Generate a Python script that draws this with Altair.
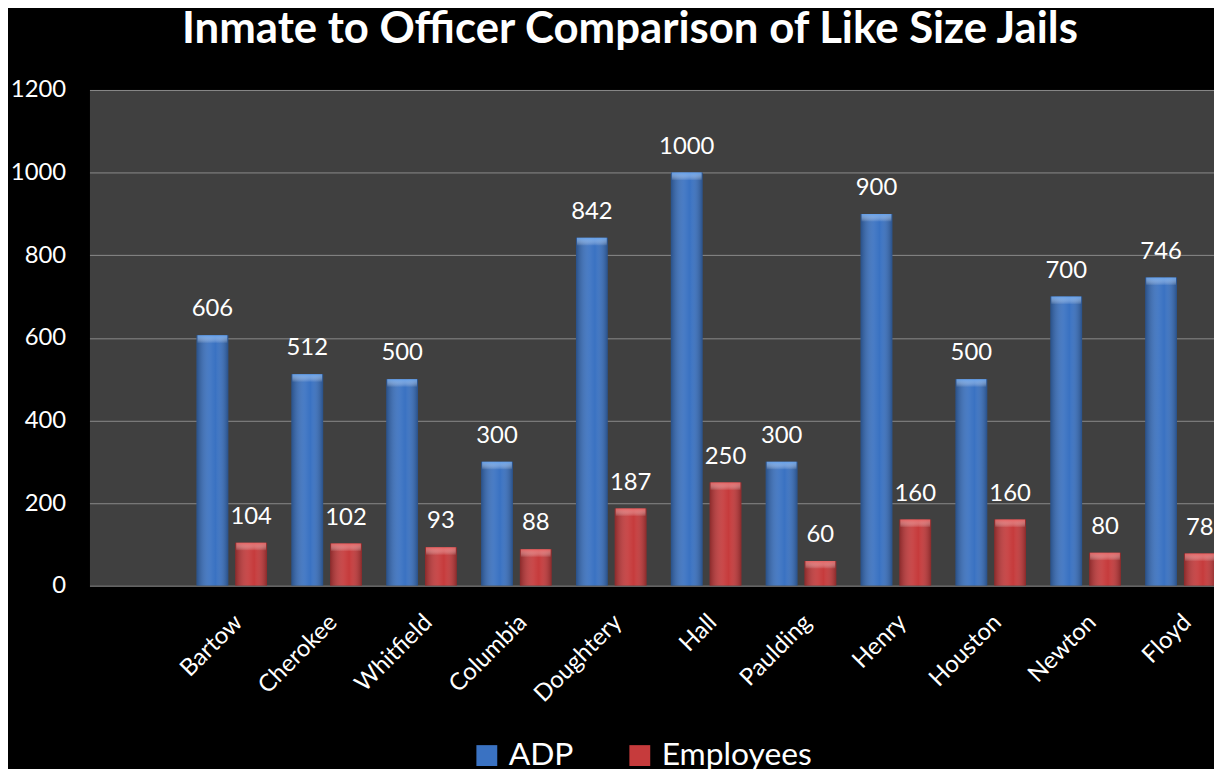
import altair as alt
import pandas as pd

title_text = "Inmate to Officer Comparison of Like Size Jails"
jails = ["Bartow", "Cherokee", "Whitfield", "Columbia", "Doughtery", "Hall",
         "Paulding", "Henry", "Houston", "Newton", "Floyd"]
adp = [606, 512, 500, 300, 842, 1000, 300, 900, 500, 700, 746]
employees = [104, 102, 93, 88, 187, 250, 60, 160, 160, 80, 78]
series = ["ADP", "Employees"]
colors = ["#3a72c2", "#c63b3c"]
bevel_colors = ["#66a3ee", "#e86262"]
y_ticks = [0, 200, 400, 600, 800, 1000, 1200]

rows = []
for j, a, e in zip(jails, adp, employees):
    rows.append({"jail": j, "series": series[0], "value": a})
    rows.append({"jail": j, "series": series[1], "value": e})
df = pd.DataFrame(rows)

x_domain = [" "] + jails
FONT = "Lato"

x_enc = alt.X(
    "jail:N",
    scale=alt.Scale(domain=x_domain, range=[0, 1146], paddingInner=0, paddingOuter=0),
    axis=alt.Axis(
        title=None, labelAngle=-45, labelAlign="right", labelBaseline="middle",
        labelColor="white", labelFont=FONT, labelFontSize=24, labelPadding=33,
        labelOffset=7, domain=False, ticks=False, grid=False, labelOverlap=False,
    ),
)
xo_enc = alt.XOffset(
    "series:N",
    scale=alt.Scale(domain=series, paddingInner=0.18, paddingOuter=0.314),
)
y_enc = alt.Y(
    "value:Q",
    scale=alt.Scale(domain=[0, 1200]),
    axis=alt.Axis(
        title=None, values=y_ticks, format="d", labelColor="white", labelFont=FONT,
        labelFontSize=24, labelPadding=24, domain=False, ticks=False,
        grid=True, gridColor="#8a8a8a", gridWidth=1,
    ),
)

base = alt.Chart(df)

bars = base.mark_bar(clip=True).encode(
    x=x_enc, xOffset=xo_enc, y=y_enc,
    color=alt.Color(
        "series:N",
        scale=alt.Scale(domain=series, range=colors),
        legend=alt.Legend(
            orient="none", legendX=384, legendY=654, direction="horizontal",
            title=None, labelColor="white", labelFontSize=32, labelFont=FONT,
            symbolType="square", symbolSize=441, symbolStrokeWidth=0,
            symbolOpacity=1, labelOffset=6, columnPadding=50,
            gridAlign="none", padding=0,
        ),
    ),
)

shade = base.mark_bar(
    clip=True,
    fill=alt.Gradient(
        gradient="linear", x1=0, x2=1, y1=0, y2=0,
        stops=[
            alt.GradientStop(color="rgba(0,0,0,0.30)", offset=0),
            alt.GradientStop(color="rgba(255,255,255,0.06)", offset=0.45),
            alt.GradientStop(color="rgba(255,255,255,0.0)", offset=0.6),
            alt.GradientStop(color="rgba(0,0,0,0.30)", offset=1),
        ],
    ),
).encode(x=x_enc, xOffset=xo_enc, y=y_enc)

bevels = []
for s, bc in zip(series, bevel_colors):
    bevels.append(
        base.transform_filter(alt.datum.series == s).mark_tick(
            clip=True, thickness=8, size=30, yOffset=4, opacity=0.9,
            color=alt.Gradient(
                gradient="linear", x1=0, x2=0, y1=0, y2=1,
                stops=[
                    alt.GradientStop(color=bc, offset=0),
                    alt.GradientStop(color="rgba(255,255,255,0)", offset=1),
                ],
            ),
        ).encode(x=x_enc, xOffset=xo_enc, y=y_enc)
    )

labels = base.mark_text(
    clip=True, color="white", font=FONT, fontSize=24, baseline="alphabetic", dy=-19,
).encode(x=x_enc, xOffset=xo_enc, y=y_enc, text="value:Q")

chart = alt.layer(bars, shade, *bevels, labels).properties(
    width=1132,
    height=499,
    autosize=alt.AutoSizeParams(type="none"),
    padding={"left": 82, "top": 80, "right": 0, "bottom": 182},
    background="black",
    title=alt.TitleParams(
        text=title_text, color="white", font=FONT, fontSize=44, fontWeight="bold",
        anchor="middle", frame="group", dx=-22, dy=13, offset=4, baseline="alphabetic",
    ),
).configure_view(fill="#404040", stroke="transparent")

chart.save("out.html", embed_options={"renderer": "svg", "actions": False})
